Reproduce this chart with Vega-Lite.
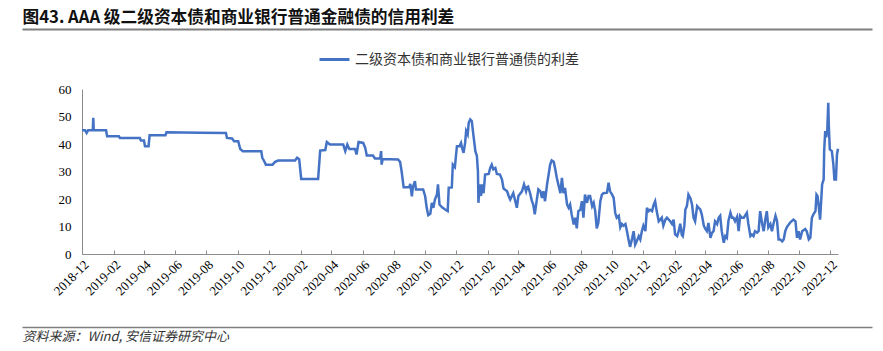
{
 "$schema": "https://vega.github.io/schema/vega-lite/v6.json",
 "width": 756,
 "height": 165,
 "autosize": {"type": "none"},
 "padding": {"left": 82, "top": 89, "right": 45, "bottom": 97},
 "background": "white",
 "data": {"values": [
  {"d":"2018/12/01","v":45},{"d":"2018/12/07","v":45},{"d":"2018/12/10","v":44},{"d":"2018/12/13","v":45},{"d":"2018/12/22","v":45},{"d":"2018/12/23","v":49.5},{"d":"2018/12/24","v":45},
  {"d":"2019/01/17","v":45},{"d":"2019/01/19","v":42.8},{"d":"2019/02/11","v":42.8},{"d":"2019/02/13","v":42.2},{"d":"2019/03/24","v":42.2},{"d":"2019/03/26","v":41.3},{"d":"2019/04/01","v":41.3},{"d":"2019/04/03","v":39.2},{"d":"2019/04/10","v":39.2},{"d":"2019/04/12","v":43.2},{"d":"2019/05/13","v":43.2},{"d":"2019/05/15","v":44.3},{"d":"2019/07/19","v":44.1},{"d":"2019/09/08","v":44.0},{"d":"2019/09/10","v":42.2},{"d":"2019/09/20","v":42.0},{"d":"2019/09/24","v":41.0},{"d":"2019/10/02","v":41.0},{"d":"2019/10/06","v":38.2},{"d":"2019/10/11","v":37.4},{"d":"2019/11/16","v":37.4},{"d":"2019/11/18","v":35},{"d":"2019/11/21","v":34},{"d":"2019/11/25","v":32.5},{"d":"2019/12/08","v":32.5},{"d":"2019/12/13","v":33.5},{"d":"2019/12/19","v":34.0},
  {"d":"2020/01/21","v":34.0},{"d":"2020/01/25","v":35},{"d":"2020/01/29","v":34.5},{"d":"2020/02/02","v":27.3},{"d":"2020/03/06","v":27.3},{"d":"2020/03/10","v":37.6},{"d":"2020/03/20","v":37.8},{"d":"2020/03/23","v":40.7},{"d":"2020/03/29","v":39.8},{"d":"2020/04/24","v":39.8},{"d":"2020/04/28","v":37.4},{"d":"2020/05/02","v":39.8},{"d":"2020/05/06","v":38.2},{"d":"2020/05/17","v":38.2},{"d":"2020/05/20","v":36.2},{"d":"2020/05/24","v":40.7},{"d":"2020/06/02","v":40.4},{"d":"2020/06/06","v":38.6},{"d":"2020/06/09","v":35.8},{"d":"2020/06/21","v":35.8},{"d":"2020/06/25","v":34.7},{"d":"2020/07/05","v":34.7},{"d":"2020/07/07","v":37.4},{"d":"2020/07/08","v":32.5},{"d":"2020/07/10","v":34.5},{"d":"2020/08/09","v":34.4},{"d":"2020/08/13","v":33.5},{"d":"2020/08/16","v":30.1},{"d":"2020/08/20","v":24.3},{"d":"2020/08/31","v":24.3},{"d":"2020/09/02","v":25.5},{"d":"2020/09/05","v":21.0},{"d":"2020/09/07","v":24.3},{"d":"2020/09/11","v":26.5},{"d":"2020/09/13","v":23.5},{"d":"2020/09/27","v":23.5},{"d":"2020/10/01","v":21},{"d":"2020/10/04","v":16.8},{"d":"2020/10/07","v":14.1},{"d":"2020/10/11","v":14.6},{"d":"2020/10/14","v":18.6},{"d":"2020/10/17","v":16.8},{"d":"2020/10/20","v":19.8},{"d":"2020/10/24","v":21.6},{"d":"2020/10/26","v":25.3},{"d":"2020/10/29","v":18},{"d":"2020/11/03","v":17},{"d":"2020/11/09","v":16.2},{"d":"2020/11/14","v":15.6},{"d":"2020/11/16","v":24.1},{"d":"2020/11/22","v":24.2},{"d":"2020/11/24","v":32.5},{"d":"2020/11/28","v":31.6},{"d":"2020/12/02","v":39.2},{"d":"2020/12/07","v":39.2},{"d":"2020/12/10","v":40.4},{"d":"2020/12/12","v":38.6},{"d":"2020/12/15","v":36.8},{"d":"2020/12/18","v":40.4},{"d":"2020/12/20","v":44.7},{"d":"2020/12/23","v":43.5},{"d":"2020/12/25","v":47.7},{"d":"2020/12/28","v":48.9},{"d":"2020/12/31","v":48.3},
  {"d":"2021/01/03","v":43.5},{"d":"2021/01/07","v":37.4},{"d":"2021/01/10","v":35.6},{"d":"2021/01/12","v":30.1},{"d":"2021/01/13","v":18.6},{"d":"2021/01/15","v":25.3},{"d":"2021/01/18","v":21.1},{"d":"2021/01/20","v":25.3},{"d":"2021/01/23","v":22.1},{"d":"2021/01/26","v":28.9},{"d":"2021/02/02","v":29.1},{"d":"2021/02/05","v":31.3},{"d":"2021/02/08","v":32.5},{"d":"2021/02/11","v":30.8},{"d":"2021/02/15","v":31.3},{"d":"2021/02/18","v":29.1},{"d":"2021/02/24","v":28.9},{"d":"2021/02/28","v":27.1},{"d":"2021/03/03","v":23.8},{"d":"2021/03/10","v":22.8},{"d":"2021/03/13","v":21.1},{"d":"2021/03/16","v":19.8},{"d":"2021/03/22","v":22.1},{"d":"2021/03/26","v":19.2},{"d":"2021/03/29","v":16.8},{"d":"2021/04/01","v":21.1},{"d":"2021/04/08","v":22.8},{"d":"2021/04/12","v":25.3},{"d":"2021/04/16","v":22.8},{"d":"2021/04/18","v":24.3},{"d":"2021/04/20","v":24.5},{"d":"2021/04/24","v":22},{"d":"2021/04/27","v":19.5},{"d":"2021/04/30","v":18},{"d":"2021/05/03","v":14.4},{"d":"2021/05/07","v":19.8},{"d":"2021/05/10","v":23.5},{"d":"2021/05/14","v":22.8},{"d":"2021/05/17","v":20.4},{"d":"2021/05/20","v":22.8},{"d":"2021/05/23","v":19.2},{"d":"2021/05/27","v":25.3},{"d":"2021/05/30","v":28.9},{"d":"2021/06/02","v":32.5},{"d":"2021/06/05","v":34},{"d":"2021/06/09","v":33.5},{"d":"2021/06/12","v":30.8},{"d":"2021/06/15","v":27.7},{"d":"2021/06/18","v":25.3},{"d":"2021/06/22","v":22.1},{"d":"2021/06/25","v":27.7},{"d":"2021/06/28","v":22.1},{"d":"2021/07/01","v":24},{"d":"2021/07/05","v":18},{"d":"2021/07/08","v":16.8},{"d":"2021/07/11","v":18},{"d":"2021/07/14","v":14.4},{"d":"2021/07/18","v":10.7},{"d":"2021/07/21","v":13.2},{"d":"2021/07/24","v":9.3},{"d":"2021/07/27","v":15.6},{"d":"2021/07/31","v":16.1},{"d":"2021/08/03","v":19.2},{"d":"2021/08/06","v":13.2},{"d":"2021/08/09","v":21.6},{"d":"2021/08/13","v":18.6},{"d":"2021/08/16","v":21.1},{"d":"2021/08/19","v":21.1},{"d":"2021/08/23","v":17.4},{"d":"2021/08/26","v":18.6},{"d":"2021/08/29","v":15.6},{"d":"2021/09/01","v":9.3},{"d":"2021/09/04","v":11.3},{"d":"2021/09/08","v":19.2},{"d":"2021/09/11","v":21.6},{"d":"2021/09/14","v":22.1},{"d":"2021/09/21","v":22.3},{"d":"2021/09/24","v":25.9},{"d":"2021/09/27","v":22.8},{"d":"2021/10/01","v":21.6},{"d":"2021/10/04","v":20.4},{"d":"2021/10/07","v":15},{"d":"2021/10/10","v":13.2},{"d":"2021/10/14","v":13.9},{"d":"2021/10/17","v":9.7},{"d":"2021/10/20","v":10.9},{"d":"2021/10/23","v":10.3},{"d":"2021/10/27","v":10.9},{"d":"2021/10/30","v":8.3},{"d":"2021/11/02","v":5.3},{"d":"2021/11/05","v":2.6},{"d":"2021/11/09","v":5.6},{"d":"2021/11/12","v":8.3},{"d":"2021/11/15","v":3.4},{"d":"2021/11/18","v":4.6},{"d":"2021/11/22","v":6.5},{"d":"2021/11/25","v":5.3},{"d":"2021/11/28","v":8.3},{"d":"2021/12/01","v":10.3},{"d":"2021/12/05","v":8.3},{"d":"2021/12/08","v":16.8},{"d":"2021/12/11","v":15.6},{"d":"2021/12/14","v":16.1},{"d":"2021/12/18","v":15.6},{"d":"2021/12/21","v":17.9},{"d":"2021/12/24","v":19.2},{"d":"2021/12/27","v":15.6},{"d":"2021/12/31","v":11.9},
  {"d":"2022/01/03","v":12.5},{"d":"2022/01/06","v":13.2},{"d":"2022/01/09","v":10.3},{"d":"2022/01/13","v":12.5},{"d":"2022/01/16","v":13.2},{"d":"2022/01/22","v":12},{"d":"2022/01/26","v":10.9},{"d":"2022/01/29","v":12.5},{"d":"2022/02/01","v":7.1},{"d":"2022/02/05","v":6.5},{"d":"2022/02/08","v":8.3},{"d":"2022/02/11","v":11},{"d":"2022/02/14","v":7},{"d":"2022/02/16","v":6.5},{"d":"2022/02/19","v":10.3},{"d":"2022/02/21","v":16.2},{"d":"2022/02/24","v":17.4},{"d":"2022/02/27","v":21.6},{"d":"2022/03/03","v":20.2},{"d":"2022/03/06","v":18},{"d":"2022/03/09","v":13.2},{"d":"2022/03/12","v":11.9},{"d":"2022/03/16","v":17.4},{"d":"2022/03/19","v":16.8},{"d":"2022/03/22","v":16.2},{"d":"2022/03/25","v":14.4},{"d":"2022/03/29","v":10.3},{"d":"2022/04/01","v":9.1},{"d":"2022/04/04","v":8.3},{"d":"2022/04/07","v":11.3},{"d":"2022/04/11","v":5.9},{"d":"2022/04/14","v":7.7},{"d":"2022/04/17","v":8.3},{"d":"2022/04/20","v":11.9},{"d":"2022/04/24","v":10.9},{"d":"2022/04/27","v":13.2},{"d":"2022/04/30","v":13.9},{"d":"2022/05/03","v":8.3},{"d":"2022/05/07","v":4.1},{"d":"2022/05/10","v":6.5},{"d":"2022/05/13","v":5.9},{"d":"2022/05/16","v":11.9},{"d":"2022/05/20","v":15},{"d":"2022/05/23","v":13.2},{"d":"2022/05/26","v":13.2},{"d":"2022/05/29","v":11.9},{"d":"2022/06/02","v":13.5},{"d":"2022/06/05","v":8.3},{"d":"2022/06/08","v":13.9},{"d":"2022/06/11","v":13.2},{"d":"2022/06/15","v":13.2},{"d":"2022/06/21","v":15},{"d":"2022/06/24","v":10.9},{"d":"2022/06/28","v":6.5},{"d":"2022/07/01","v":7.1},{"d":"2022/07/04","v":6.5},{"d":"2022/07/07","v":8.3},{"d":"2022/07/11","v":7.8},{"d":"2022/07/14","v":8.3},{"d":"2022/07/17","v":15.6},{"d":"2022/07/21","v":10.9},{"d":"2022/07/24","v":8.3},{"d":"2022/07/27","v":12.5},{"d":"2022/07/30","v":15.6},{"d":"2022/08/02","v":9.7},{"d":"2022/08/06","v":10.9},{"d":"2022/08/09","v":8.3},{"d":"2022/08/12","v":10.9},{"d":"2022/08/16","v":13.9},{"d":"2022/08/19","v":12},{"d":"2022/08/22","v":5.3},{"d":"2022/08/25","v":5.3},{"d":"2022/08/29","v":4.6},{"d":"2022/09/01","v":5.3},{"d":"2022/09/04","v":8.3},{"d":"2022/09/07","v":9.7},{"d":"2022/09/14","v":11.5},{"d":"2022/09/20","v":12.5},{"d":"2022/09/24","v":11.9},{"d":"2022/09/27","v":5.9},{"d":"2022/09/30","v":8.3},{"d":"2022/10/03","v":5.3},{"d":"2022/10/07","v":8.3},{"d":"2022/10/13","v":9.1},{"d":"2022/10/16","v":8.3},{"d":"2022/10/20","v":5.3},{"d":"2022/10/23","v":5.9},{"d":"2022/10/26","v":13.2},{"d":"2022/10/29","v":14.4},{"d":"2022/11/02","v":15.6},{"d":"2022/11/04","v":21.6},{"d":"2022/11/06","v":21.1},{"d":"2022/11/08","v":18},{"d":"2022/11/11","v":12.5},{"d":"2022/11/15","v":25.3},{"d":"2022/11/18","v":27.1},{"d":"2022/11/19","v":37.4},{"d":"2022/11/21","v":44.7},{"d":"2022/11/23","v":42.4},{"d":"2022/11/25","v":44.7},{"d":"2022/11/27","v":55},{"d":"2022/11/28","v":47},{"d":"2022/11/30","v":38},{"d":"2022/12/04","v":37.4},{"d":"2022/12/07","v":32.5},{"d":"2022/12/09","v":27.1},{"d":"2022/12/12","v":27.1},{"d":"2022/12/14","v":36.2},{"d":"2022/12/16","v":38.3}
 ]},
 "layer": [
  {
   "mark": {"type": "line", "strokeWidth": 2.5, "interpolate": "linear"},
   "encoding": {
    "x": {"field": "d", "type": "temporal",
     "scale": {"domain": [{"year": 2018, "month": 12, "date": 1}, {"year": 2022, "month": 12, "date": 16}]},
     "axis": {"values": [
       {"year": 2018, "month": 12, "date": 1}, {"year": 2019, "month": 2, "date": 1}, {"year": 2019, "month": 4, "date": 1}, {"year": 2019, "month": 6, "date": 1}, {"year": 2019, "month": 8, "date": 1}, {"year": 2019, "month": 10, "date": 1}, {"year": 2019, "month": 12, "date": 1},
       {"year": 2020, "month": 2, "date": 1}, {"year": 2020, "month": 4, "date": 1}, {"year": 2020, "month": 6, "date": 1}, {"year": 2020, "month": 8, "date": 1}, {"year": 2020, "month": 10, "date": 1}, {"year": 2020, "month": 12, "date": 1},
       {"year": 2021, "month": 2, "date": 1}, {"year": 2021, "month": 4, "date": 1}, {"year": 2021, "month": 6, "date": 1}, {"year": 2021, "month": 8, "date": 1}, {"year": 2021, "month": 10, "date": 1}, {"year": 2021, "month": 12, "date": 1},
       {"year": 2022, "month": 2, "date": 1}, {"year": 2022, "month": 4, "date": 1}, {"year": 2022, "month": 6, "date": 1}, {"year": 2022, "month": 8, "date": 1}, {"year": 2022, "month": 10, "date": 1}, {"year": 2022, "month": 12, "date": 1}],
      "format": "%Y-%m", "formatType": "time", "labelAngle": -45, "labelAlign": "right", "labelBaseline": "top",
      "labelFont": "Liberation Serif", "labelFontSize": 13, "labelColor": "#000", "labelPadding": 8,
      "labelOverlap": false, "labelFlush": false, "labelBound": false,
      "tickSize": -4, "tickColor": "#8c8c8c", "domainColor": "#8c8c8c", "grid": false, "title": null}},
    "y": {"field": "v", "type": "quantitative",
     "scale": {"domain": [0, 60], "nice": false},
     "axis": {"values": [0, 10, 20, 30, 40, 50, 60], "ticks": false, "grid": false, "domainColor": "#8c8c8c",
      "labelFont": "Liberation Serif", "labelFontSize": 13, "labelColor": "#000", "labelPadding": 11, "title": null}},
    "color": {"datum": "二级资本债和商业银行普通债的利差", "scale": {"range": ["#4472C4"]},
     "legend": {"orient": "none", "legendX": 236, "legendY": -46, "title": null, "padding": 0,
      "symbolType": "stroke", "symbolSize": 900, "symbolStrokeWidth": 3,
      "labelFont": "Noto Sans CJK SC", "labelFontSize": 14, "labelColor": "#333", "labelOffset": 4, "labelLimit": 400}}
   }
  },
  {
   "data": {"values": [{"k": 0}]},
   "mark": {"type": "point", "opacity": 0},
   "encoding": {
    "x": {"datum": 0.5, "type": "quantitative",
     "scale": {"domain": [0, 1], "range": [-60, 790]},
     "axis": {"orient": "top", "offset": 60, "domain": true, "domainColor": "#7f7f7f", "domainWidth": 2,
      "values": [0.5], "tickSize": 0, "tickOpacity": 0, "labelOpacity": 0, "labelFontSize": 1, "labelPadding": 0, "gridOpacity": 0,
      "title": "图43. AAA 级二级资本债和商业银行普通金融债的信用利差", "titleAnchor": "start", "titleAlign": "left", "titleBaseline": "bottom",
      "titlePadding": 2, "titleFont": "Noto Sans CJK SC", "titleFontSize": 16.7, "titleFontWeight": "bold", "titleColor": "#111"}}
   }
  },
  {
   "data": {"values": [{"k": 0}]},
   "mark": {"type": "point", "opacity": 0},
   "encoding": {
    "x": {"datum": 0.5, "type": "quantitative",
     "scale": {"domain": [0, 1], "range": [-60, 790]},
     "axis": {"orient": "bottom", "offset": 73, "domain": true, "domainColor": "#7f7f7f", "domainWidth": 1.5,
      "ticks": false, "labels": false, "grid": false,
      "title": "资料来源：Wind, 安信证券研究中心", "titleAnchor": "start", "titleAlign": "left", "titleBaseline": "top",
      "titlePadding": 3, "titleFont": "Noto Sans CJK SC", "titleFontSize": 13, "titleFontWeight": "normal",
      "titleFontStyle": "italic", "titleColor": "#333"}}
   }
  }
 ],
 "resolve": {"scale": {"x": "independent"}, "axis": {"x": "independent"}},
 "config": {"view": {"stroke": null}}
}
